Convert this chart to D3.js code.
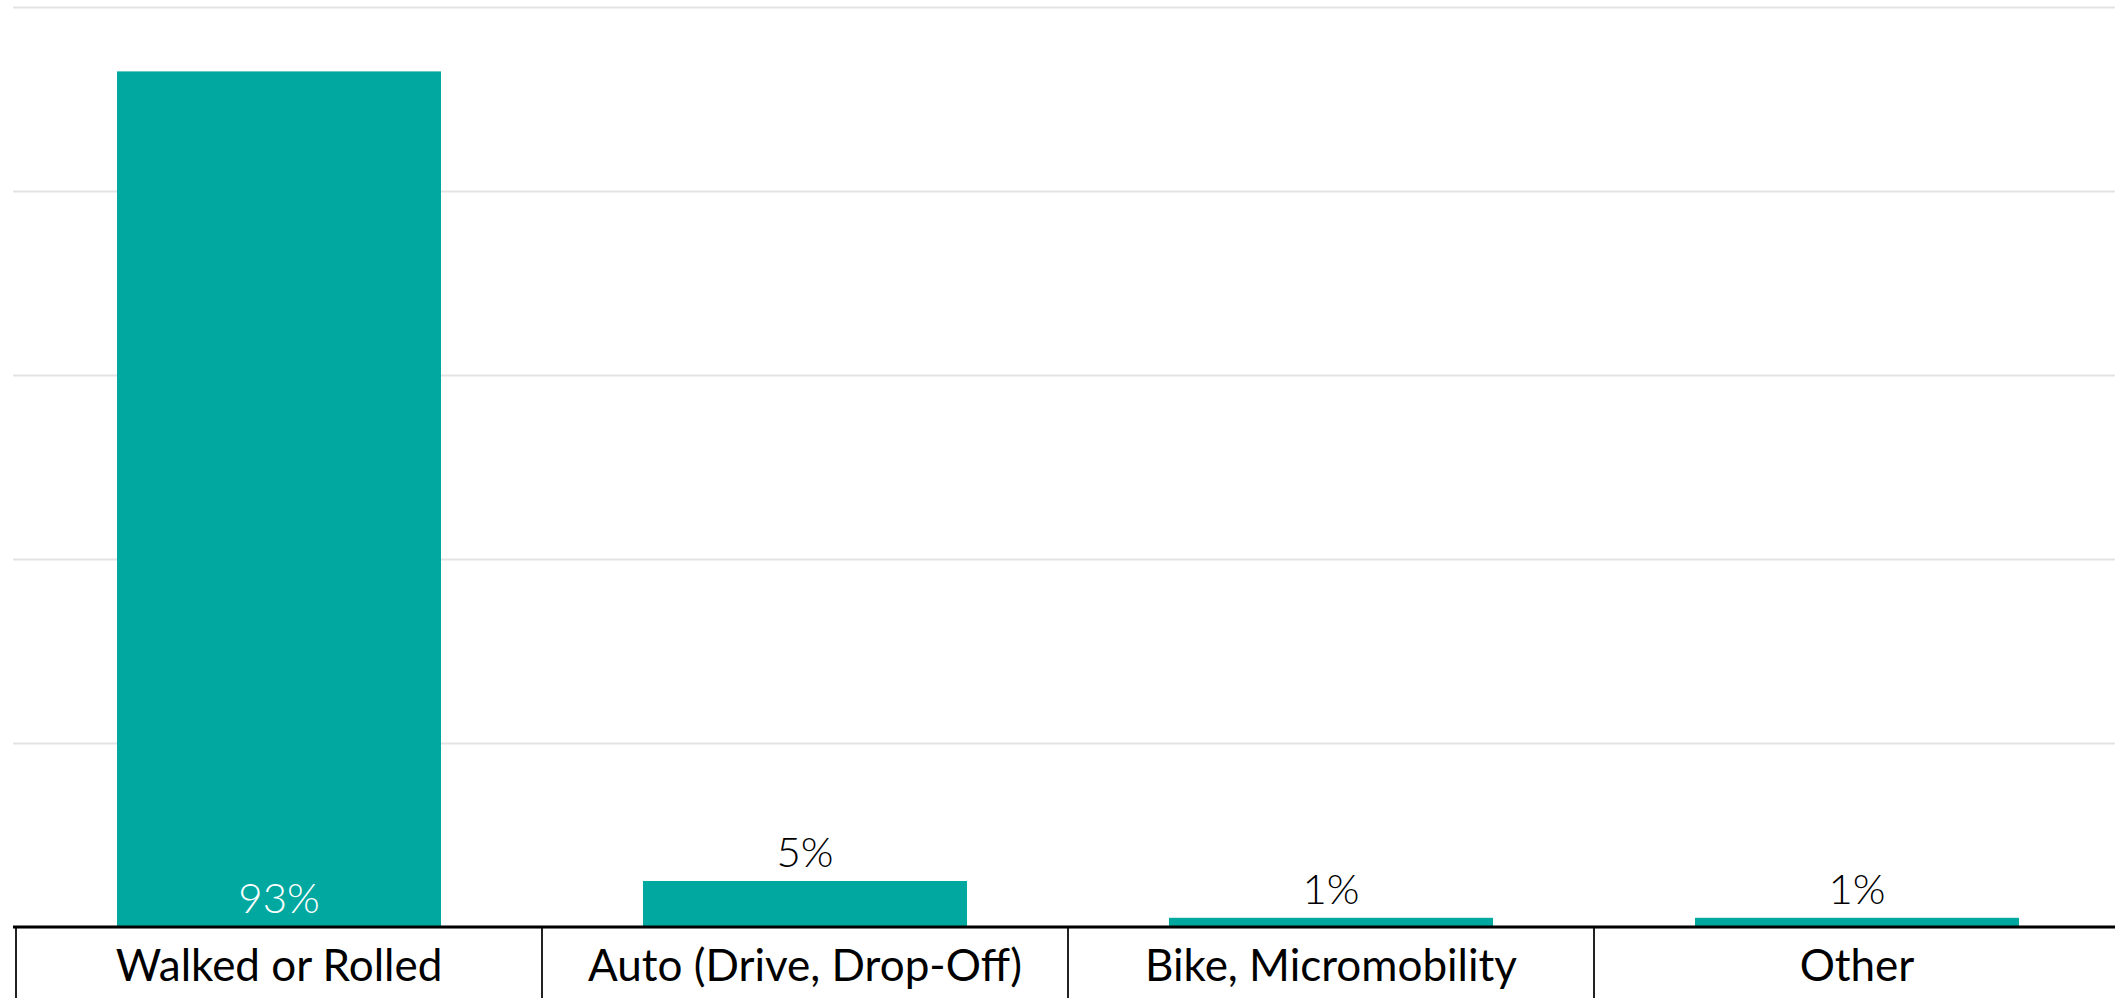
<!DOCTYPE html>
<html>
<head>
<meta charset="utf-8">
<script src="https://cdn.jsdelivr.net/npm/d3@7"></script>
<style>
  html, body { margin: 0; padding: 0; background: #fff; overflow: hidden; }
  svg { display: block; }
</style>
</head>
<body>
<div id="chart"></div>
<script>
// data
var categories = ["Walked or Rolled", "Auto (Drive, Drop-Off)", "Bike, Micromobility", "Other"];
var shares = [93, 5, 1, 1];
var shareLabels = ["93%", "5%", "1%", "1%"];
var yTicks = [0, 20, 40, 60, 80, 100];

var width = 2115, height = 998;
var font = "Lato, 'Open Sans', sans-serif";

var svg = d3.select("#chart").append("svg")
    .attr("width", width)
    .attr("height", height);

var data = categories.map(function (c, i) {
    return { cat: c, value: shares[i], label: shareLabels[i] };
});

// layout bands (cells under the axis) and bars inside them
var cells = d3.scaleBand().domain(categories).range([16, 2120]).padding(0);
var x = d3.scaleBand().domain(categories).range([16, 2120])
    .paddingInner(0.384).paddingOuter(0.192);
var y = d3.scaleLinear().domain([0, 100]).range([927, 7]);

// gridlines
svg.append("g")
    .attr("transform", "translate(13,0)")
    .call(d3.axisLeft(y).tickValues(yTicks).tickSize(-(width - 13)).tickFormat(""))
    .call(function (g) {
        g.select(".domain").remove();
        g.selectAll(".tick line").attr("stroke", "#e4e4e4").attr("stroke-width", 2);
    });

// bars
svg.selectAll(".bar")
    .data(data)
    .enter().append("rect")
    .attr("class", "bar")
    .attr("x", function (d) { return x(d.cat); })
    .attr("width", x.bandwidth())
    .attr("y", function (d) { return y(d.value); })
    .attr("height", function (d) { return y(0) - y(d.value); })
    .attr("fill", "#00a8a0");

// value labels: inside the base for tall bars, above for short ones
svg.selectAll(".val")
    .data(data)
    .enter().append("text")
    .attr("class", "val")
    .attr("x", function (d) { return x(d.cat) + x.bandwidth() / 2; })
    .attr("y", function (d) {
        return d.value > 20 ? y(0) - 14 : y(d.value) - 14;
    })
    .attr("text-anchor", "middle")
    .style("font-family", font)
    .style("font-size", "42px")
    .style("font-weight", 300)
    .attr("fill", function (d) { return d.value > 20 ? "#fff" : "#000"; })
    .text(function (d) { return d.label; });

// cell dividers below the axis
svg.selectAll(".div")
    .data(categories)
    .enter().append("line")
    .attr("class", "div")
    .attr("x1", function (d) { return cells(d); })
    .attr("x2", function (d) { return cells(d); })
    .attr("y1", y(0))
    .attr("y2", height)
    .attr("stroke", "#222")
    .attr("stroke-width", 2);

// category labels
svg.selectAll(".cat")
    .data(categories)
    .enter().append("text")
    .attr("class", "cat")
    .attr("x", function (d) { return cells(d) + cells.bandwidth() / 2; })
    .attr("y", 981)
    .attr("text-anchor", "middle")
    .style("font-family", font)
    .style("font-size", "44px")
    .attr("fill", "#000")
    .text(function (d) { return d; });

// baseline
svg.append("line")
    .attr("x1", 13).attr("x2", width)
    .attr("y1", y(0)).attr("y2", y(0))
    .attr("stroke", "#000")
    .attr("stroke-width", 3);
</script>
</body>
</html>
